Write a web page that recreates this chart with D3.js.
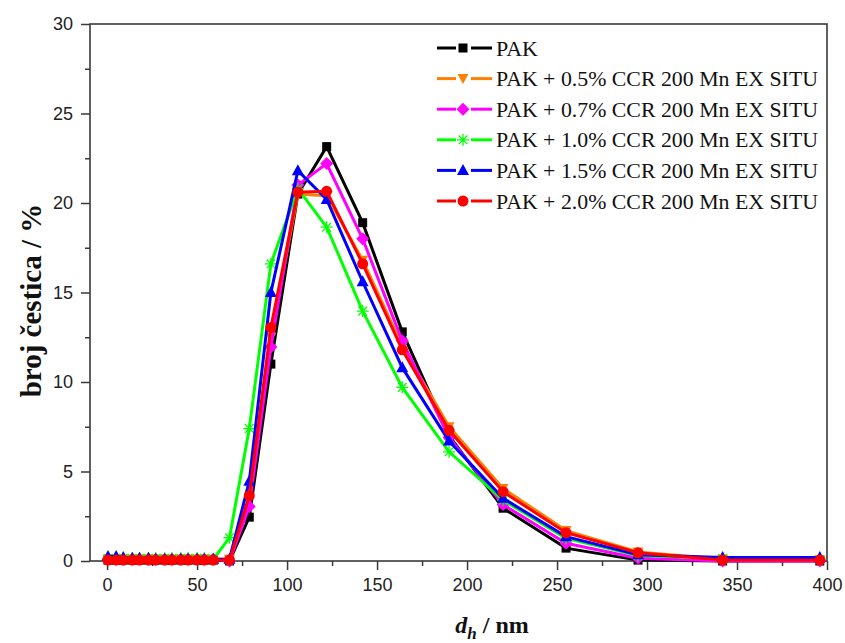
<!DOCTYPE html>
<html><head><meta charset="utf-8">
<script src="https://cdn.jsdelivr.net/npm/d3@7"></script>
<style>body{margin:0;background:#fff}</style>
</head><body>
<svg id="c" width="845" height="643"></svg>
<script>
// ---- data ----
const xs = [0.5, 5, 9, 14, 18, 23, 27, 32, 36, 41, 45, 50, 54, 59, 68, 79, 91, 106, 122, 142, 164, 190, 220, 255, 295, 342, 396];
const seriesNames = ["PAK", "PAK + 0.5% CCR 200 Mn EX SITU", "PAK + 0.7% CCR 200 Mn EX SITU", "PAK + 1.0% CCR 200 Mn EX SITU", "PAK + 1.5% CCR 200 Mn EX SITU", "PAK + 2.0% CCR 200 Mn EX SITU"];
const pak   = [0.05,0.05,0.05,0.05,0.05,0.05,0.05,0.05,0.05,0.05,0.05,0.05,0.05,0.05,0.0, 2.45,11.0,20.5,23.15,18.9,12.8,7.0,2.95,0.72,0.05,0.0,0.0];
const p05   = [0.1,0.1,0.1,0.1,0.1,0.1,0.1,0.1,0.1,0.1,0.1,0.1,0.1,0.1,0.1, 3.5,12.5,20.5,20.4,16.8,12.0,7.5,4.05,1.7,0.5,0.1,0.05];
const p07   = [0.1,0.1,0.1,0.1,0.1,0.1,0.1,0.1,0.1,0.1,0.1,0.1,0.1,0.1,0.0, 3.05,11.95,21.0,22.2,18.0,12.3,6.9,3.15,0.99,0.15,0.0,0.0];
const p10   = [0.15,0.15,0.15,0.15,0.15,0.15,0.15,0.15,0.15,0.15,0.15,0.15,0.15,0.1,1.3, 7.4,16.6,20.8,18.65,13.96,9.7,6.1,3.4,1.27,0.3,0.15,0.1];
const p15   = [0.25,0.25,0.2,0.15,0.15,0.15,0.1,0.1,0.1,0.1,0.1,0.1,0.1,0.1,0.1, 4.46,15.0,21.8,20.2,15.6,10.8,6.7,3.5,1.36,0.35,0.2,0.2];
const p20   = [0.05,0.05,0.05,0.05,0.05,0.05,0.05,0.05,0.05,0.05,0.05,0.05,0.05,0.05,0.05, 3.65,13.05,20.6,20.65,16.6,11.8,7.3,3.87,1.58,0.46,0.05,0.05];
const colors = ["#000000", "#FF8000", "#FF00FF", "#00FF00", "#0000FF", "#FF0000"];
const symbols = ["square", "triDown", "diamond", "asterisk", "triUp", "circle"];
const xTicks = [0, 50, 100, 150, 200, 250, 300, 350, 400];
const yTicks = [0, 5, 10, 15, 20, 25, 30];
const allSeries = [pak, p05, p07, p10, p15, p20];

// ---- chart ----
const svg = d3.select("#c");
const L = 90, R = 827, T = 24, B = 561;
const x = d3.scaleLinear().domain([-9.5, 400]).range([L, R]);
const y = d3.scaleLinear().domain([0, 30]).range([B, T]);

const axisColor = "#3a3a3a";
const xMinor = d3.range(25, 400, 50);
const yMinor = d3.range(2.5, 30, 5);

const gx = svg.append("g").attr("transform", `translate(0,${B})`)
  .call(d3.axisBottom(x).tickValues(xTicks).tickSize(9).tickPadding(8).tickFormat(d3.format("d")));
gx.select(".domain").remove();
svg.append("g").attr("transform", `translate(0,${B})`)
  .call(d3.axisBottom(x).tickValues(xMinor).tickSize(5).tickFormat(""))
  .select(".domain").remove();
const gy = svg.append("g").attr("transform", `translate(${L},0)`)
  .call(d3.axisLeft(y).tickValues(yTicks).tickSize(9).tickPadding(8).tickFormat(d3.format("d")));
gy.select(".domain").remove();
svg.append("g").attr("transform", `translate(${L},0)`)
  .call(d3.axisLeft(y).tickValues(yMinor).tickSize(5).tickFormat(""))
  .select(".domain").remove();
svg.selectAll(".tick line").attr("stroke", axisColor).attr("stroke-width", 1.5);
svg.selectAll(".tick text").attr("font-family", "Liberation Sans, Arial, sans-serif")
  .attr("font-size", 18).attr("fill", "#222");

// frame
svg.append("rect").attr("x", L).attr("y", T).attr("width", R - L).attr("height", B - T)
  .attr("fill", "none").attr("stroke", axisColor).attr("stroke-width", 1.6);

function symbolPath(sel, type, color, cx, cy) {
  const g = sel.append("g").attr("transform", `translate(${cx},${cy})`);
  if (type === "square") g.append("rect").attr("x", -4.5).attr("y", -4.5).attr("width", 9).attr("height", 9).attr("fill", color);
  else if (type === "triDown") g.append("path").attr("d", "M-5.5,-4.5L5.5,-4.5L0,5.5Z").attr("fill", color);
  else if (type === "triUp") g.append("path").attr("d", "M-6,4.5L6,4.5L0,-6.5Z").attr("fill", color);
  else if (type === "diamond") g.append("path").attr("d", "M0,-6.5L6.5,0L0,6.5L-6.5,0Z").attr("fill", color);
  else if (type === "circle") g.append("circle").attr("r", 5.5).attr("fill", color);
  else if (type === "asterisk") g.append("path").attr("d", "M0,-6V6M-6,0H6M-4.3,-4.3L4.3,4.3M-4.3,4.3L4.3,-4.3")
      .attr("stroke", color).attr("stroke-width", 1.3).attr("fill", "none");
}

const line = d3.line().x((d, i) => x(xs[i])).y(d => y(d));
const plot = svg.append("g");
allSeries.forEach((s, k) => {
  plot.append("path").datum(s).attr("d", line).attr("fill", "none")
    .attr("stroke", colors[k]).attr("stroke-width", 3).attr("stroke-linejoin", "miter");
  s.forEach((v, i) => symbolPath(plot, symbols[k], colors[k], x(xs[i]), y(v)));
});

// legend
const lg = svg.append("g");
seriesNames.forEach((name, k) => {
  const ly = 48 + k * 30.6;
  lg.append("line").attr("x1", 437).attr("x2", 456).attr("y1", ly).attr("y2", ly).attr("stroke", colors[k]).attr("stroke-width", 3);
  lg.append("line").attr("x1", 471).attr("x2", 492).attr("y1", ly).attr("y2", ly).attr("stroke", colors[k]).attr("stroke-width", 3);
  symbolPath(lg, symbols[k], colors[k], 463, ly);
  const t = lg.append("text").attr("x", 496).attr("y", ly + 7.5).text(name)
    .attr("font-family", "Liberation Serif, Times New Roman, serif").attr("font-size", 22).attr("fill", "#111");
  if (k > 0) t.attr("textLength", 322).attr("lengthAdjust", "spacingAndGlyphs");
});

// axis titles
svg.append("text").attr("transform", `translate(41,${(T + B) / 2 + 8}) rotate(-90)`)
  .attr("text-anchor", "middle").attr("font-family", "Liberation Serif, Times New Roman, serif")
  .attr("font-weight", "bold").attr("font-size", 29).attr("fill", "#111")
  .text("broj čestica / %");
const xt = svg.append("text").attr("x", 492).attr("y", 633).attr("text-anchor", "middle")
  .attr("font-family", "Liberation Serif, Times New Roman, serif").attr("font-weight", "bold")
  .attr("font-size", 24).attr("fill", "#111");
xt.append("tspan").attr("font-style", "italic").text("d");
xt.append("tspan").attr("font-style", "italic").attr("font-size", 17).attr("dy", 6).text("h");
xt.append("tspan").attr("dy", -6).text(" / nm");
</script>
</body></html>
